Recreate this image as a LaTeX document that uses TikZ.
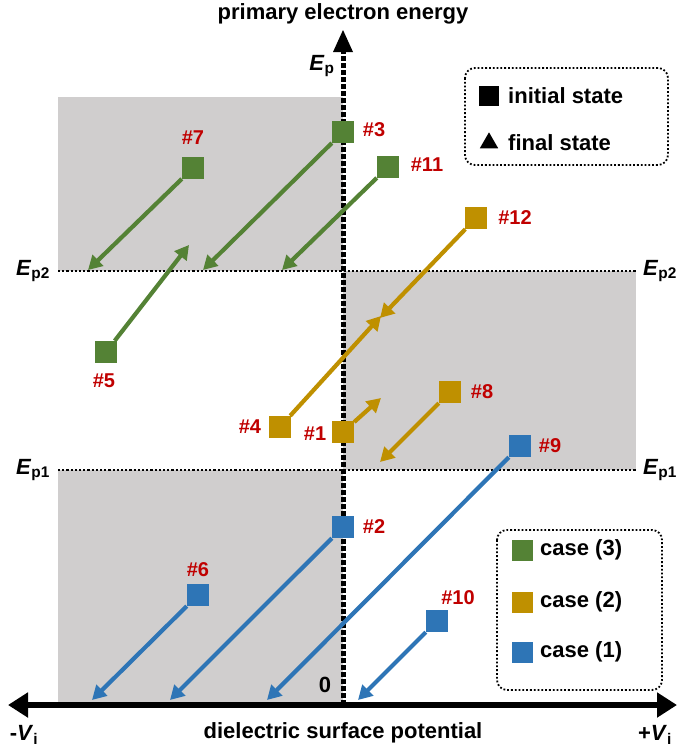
\documentclass[tikz,border=0pt]{standalone}
\usepackage{fontspec}
\setmainfont{Liberation Sans}
\usetikzlibrary{arrows.meta,shapes.geometric}
\definecolor{cg}{HTML}{548235}
\definecolor{cy}{HTML}{BF9000}
\definecolor{cb}{HTML}{2E75B6}
\definecolor{lab}{HTML}{C00000}
\definecolor{greyfill}{HTML}{D0CECE}
\begin{document}
\begin{tikzpicture}[x=1pt,y=-1pt,font=\bfseries\fontsize{22}{26}\selectfont,
  sq/.style={rectangle,fill=#1,minimum size=22pt,inner sep=0pt},
  arr/.style={draw=#1,line width=4.2pt,-{Triangle[length=14pt,width=15pt]}},
  lbl/.style={text=lab,font=\bfseries\fontsize{20}{24}\selectfont},
  dotl/.style={line width=2.2pt,dotted},
  legbox/.style={draw,line width=1.8pt,dotted,rounded corners=10pt}]
\useasboundingbox (0,0) rectangle (685,750);
% shaded regions
\fill[greyfill] (58,97) rectangle (343,271);
\fill[greyfill] (343,271) rectangle (636,470);
\fill[greyfill] (58,470) rectangle (343,705);
% dotted levels
\draw[dotl] (58,271) -- (636,271);
\draw[dotl] (58,470) -- (636,470);
% axes
\coordinate (vb) at (343,705); \coordinate (vt) at (343,30);
\draw[line width=5pt,dotted] (vb) -- (343,50);
\fill (333,52) -- (353,52) -- (343,30) -- cycle;
\coordinate (hl) at (8,705); \coordinate (hr) at (677,705);
\draw[line width=6pt,{Triangle[length=20pt,width=24pt]}-{Triangle[length=20pt,width=24pt]}] (hl) -- (hr);
% axis labels
\node (title) at (343,14) {primary electron energy};
\node (ep) at (322,66) {\textit{E}\textsubscript{p}};
\node (ep2l) at (33,271) {\textit{E}\textsubscript{p2}};
\node (ep2r) at (660,271) {\textit{E}\textsubscript{p2}};
\node (ep1l) at (33,470) {\textit{E}\textsubscript{p1}};
\node (ep1r) at (660,470) {\textit{E}\textsubscript{p1}};
\node (zero) at (325,685) {0};
\node (vl) at (24,735) {-\textit{V}\textsubscript{i}};
\node (vr) at (655,735) {+\textit{V}\textsubscript{i}};
\node (xl) at (343,733) {dielectric surface potential};
% legend top
\draw[legbox] (465,68) rectangle (668,165);
\node[sq=black,minimum size=20pt] (lsq) at (489,96) {};
\node[anchor=west,inner sep=0pt] (lt1) at (508,96) {initial state};
\node[isosceles triangle,isosceles triangle apex angle=60,shape border rotate=90,fill=black,minimum size=16pt,inner sep=0pt] (ltr) at (489,143) {};
\node[anchor=west,inner sep=0pt] (lt2) at (508,143) {final state};
% legend bottom
\draw[legbox] (497,530) rectangle (662,690);
\node[sq=cg,minimum size=21pt] (l3) at (522,550) {};
\node[anchor=west,inner sep=0pt] (l3t) at (540,550) {case (3)};
\node[sq=cy,minimum size=21pt] (l2) at (522,602) {};
\node[anchor=west,inner sep=0pt] (l2t) at (540,602) {case (2)};
\node[sq=cb,minimum size=21pt] (l1) at (522,652) {};
\node[anchor=west,inner sep=0pt] (l1t) at (540,652) {case (1)};
% green
\node[sq=cg] (s3) at (343,132) {}; \coordinate (e3) at (203,270);
\node[sq=cg] (s7) at (193,168) {}; \coordinate (e7) at (88,270);
\node[sq=cg] (s11) at (388,167) {}; \coordinate (e11) at (282,270);
\node[sq=cg] (s5) at (106,352) {}; \coordinate (e5) at (189,245);
\draw[arr=cg] (s3) -- (e3);
\draw[arr=cg] (s7) -- (e7);
\draw[arr=cg] (s11) -- (e11);
\draw[arr=cg] (s5) -- (e5);
% gold
\node[sq=cy] (s12) at (476,218) {}; \coordinate (e12) at (380,318);
\node[sq=cy] (s4) at (280,427) {}; \coordinate (e4) at (381,316);
\node[sq=cy] (s1) at (343,432) {}; \coordinate (e1) at (381,398);
\node[sq=cy] (s8) at (450,392) {}; \coordinate (e8) at (380,462);
\draw[arr=cy] (s12) -- (e12);
\draw[arr=cy] (s4) -- (e4);
\draw[arr=cy] (s1) -- (e1);
\draw[arr=cy] (s8) -- (e8);
% blue
\node[sq=cb] (s9) at (520,446) {}; \coordinate (e9) at (267,700);
\node[sq=cb] (s2) at (343,527) {}; \coordinate (e2) at (170,700);
\node[sq=cb] (s6) at (198,595) {}; \coordinate (e6) at (92,700);
\node[sq=cb] (s10) at (437,621) {}; \coordinate (e10) at (358,700);
\draw[arr=cb] (s9) -- (e9);
\draw[arr=cb] (s2) -- (e2);
\draw[arr=cb] (s6) -- (e6);
\draw[arr=cb] (s10) -- (e10);
% labels
\node[lbl] (t3) at (374,130) {\#3};
\node[lbl] (t7) at (193,138) {\#7};
\node[lbl] (t11) at (427,165) {\#11};
\node[lbl] (t5) at (104,381) {\#5};
\node[lbl] (t12) at (515,218) {\#12};
\node[lbl] (t4) at (250,427) {\#4};
\node[lbl] (t1) at (315,434) {\#1};
\node[lbl] (t8) at (482,392) {\#8};
\node[lbl] (t9) at (550,446) {\#9};
\node[lbl] (t2) at (374,527) {\#2};
\node[lbl] (t6) at (198,570) {\#6};
\node[lbl] (t10) at (458,598) {\#10};
\end{tikzpicture}
\end{document}
